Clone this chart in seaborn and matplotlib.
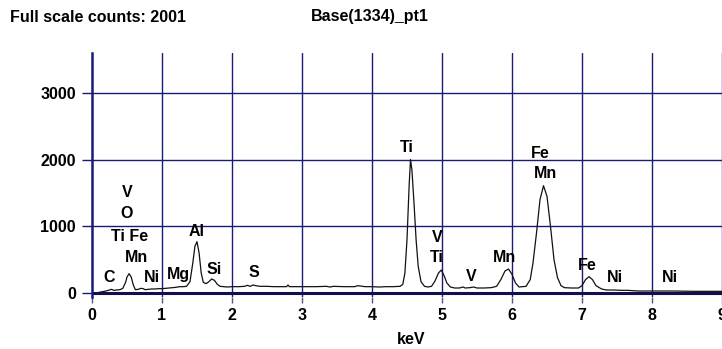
import matplotlib
matplotlib.use("Agg")
import matplotlib.pyplot as plt
import seaborn as sns
import pandas as pd

# ---- data ----
kev = [0.10, 0.15, 0.20, 0.25, 0.28, 0.31, 0.35, 0.40, 0.44, 0.48, 0.50, 0.53, 0.56, 0.59,
       0.62, 0.66, 0.70, 0.73, 0.76, 0.80, 0.85, 0.90, 0.95, 1.00, 1.05, 1.10, 1.15, 1.20,
       1.25, 1.30, 1.35, 1.40, 1.44, 1.47, 1.50, 1.53, 1.56, 1.59, 1.63, 1.67, 1.71, 1.75,
       1.79, 1.83, 1.88, 1.93, 2.00, 2.10, 2.18, 2.22, 2.26, 2.30, 2.34, 2.40, 2.50, 2.60,
       2.70, 2.78, 2.80, 2.82, 2.90, 3.00, 3.10, 3.20, 3.35, 3.40, 3.45, 3.60, 3.75, 3.80,
       3.90, 4.00, 4.10, 4.20, 4.30, 4.40, 4.44, 4.47, 4.50, 4.53, 4.55, 4.57, 4.60, 4.63,
       4.66, 4.70, 4.75, 4.80, 4.85, 4.90, 4.95, 4.99, 5.03, 5.07, 5.12, 5.18, 5.25, 5.30,
       5.33, 5.40, 5.45, 5.50, 5.60, 5.70, 5.78, 5.84, 5.90, 5.95, 6.00, 6.05, 6.10, 6.20,
       6.26, 6.30, 6.35, 6.40, 6.45, 6.50, 6.55, 6.60, 6.65, 6.70, 6.75, 6.85, 6.95, 7.00,
       7.05, 7.10, 7.15, 7.20, 7.28, 7.35, 7.45, 7.55, 7.65, 7.80, 8.00, 8.30, 8.60, 9.00]
counts = [10, 20, 30, 45, 55, 40, 45, 50, 70, 160, 240, 290, 240, 120,
          50, 55, 70, 65, 50, 55, 60, 60, 65, 65, 70, 75, 80, 85,
          95, 95, 100, 170, 450, 700, 770, 600, 300, 160, 140, 170, 210, 190,
          130, 100, 95, 90, 95, 95, 100, 115, 100, 120, 110, 100, 100, 95,
          95, 95, 120, 95, 95, 95, 95, 95, 100, 90, 100, 95, 95, 110,
          95, 95, 90, 95, 95, 100, 130, 300, 800, 1600, 2001, 1850, 1350, 800,
          400, 170, 100, 90, 100, 180, 300, 345, 260, 150, 90, 75, 75, 90,
          75, 80, 90, 75, 75, 80, 100, 200, 330, 360, 280, 150, 90, 100,
          200, 450, 900, 1400, 1610, 1450, 1000, 500, 230, 110, 80, 75, 75, 110,
          200, 245, 200, 110, 60, 45, 45, 40, 40, 30, 30, 30, 25, 25]

peak_labels = ["V", "O", "Ti Fe", "Mn", "C", "Ni", "Mg", "Al", "Si", "S",
               "Ti", "V", "Ti", "V", "Mn", "Fe", "Mn", "Fe", "Ni", "Ni"]
label_kev = [0.50, 0.50, 0.54, 0.63, 0.24, 0.85, 1.23, 1.49, 1.74, 2.31,
             4.50, 4.93, 4.93, 5.42, 5.89, 6.40, 6.48, 7.07, 7.47, 8.26]
label_counts = [1505, 1200, 845, 540, 240, 225, 270, 920, 360, 305,
                2190, 840, 530, 245, 525, 2100, 1785, 410, 225, 225]

x_ticks = [0, 1, 2, 3, 4, 5, 6, 7, 8, 9]
y_ticks = [0, 1000, 2000, 3000]

df = pd.DataFrame({"keV": kev, "counts": counts})

sns.set_style("white")
plt.rcParams["font.family"] = ["Liberation Sans", "DejaVu Sans"]
plt.rcParams["font.weight"] = "bold"
plt.rcParams["text.color"] = "black"
plt.rcParams["axes.labelcolor"] = "black"
plt.rcParams["xtick.labelcolor"] = "black"
plt.rcParams["ytick.labelcolor"] = "black"

NAVY = "#1a1a78"
FS = 11.5

fig = plt.figure(figsize=(7.22, 3.49), dpi=100)
ax = fig.add_axes([92 / 722, 52 / 349, 630 / 722, 244 / 349])

# grid
for xv in x_ticks[1:]:
    ax.axvline(xv, color=NAVY, lw=1.0, zorder=1)
for yv in y_ticks[1:]:
    ax.axhline(yv, color=NAVY, lw=1.0, zorder=1)
ax.axhline(0, color="#101050", lw=2.2, zorder=2)

sns.lineplot(data=df, x="keV", y="counts", ax=ax, color="#111111", lw=0.9, zorder=3)

for t, xv, yv in zip(peak_labels, label_kev, label_counts):
    ax.text(xv, yv, t, ha="center", va="center", fontsize=FS, fontweight="bold",
            color="black", zorder=4)

ax.set_xlim(0, 9)
ax.set_ylim(-60, 3600)
ax.set_xticks(x_ticks)
ax.set_yticks(y_ticks)
ax.set_xticklabels([str(v) for v in x_ticks], fontsize=FS, fontweight="bold", color="black")
ax.set_yticklabels([str(v) for v in y_ticks], fontsize=FS, fontweight="bold", color="black")
ax.tick_params(axis="x", length=4, width=1.0, color="#555577", pad=4, bottom=True)
ax.tick_params(axis="y", length=7, width=1.0, color=NAVY, pad=4.5, left=True)
ax.set_xlabel("keV", fontsize=FS, fontweight="bold", color="black")
ax.xaxis.label.set_va("center")
ax.xaxis.set_label_coords((411 - 92) / 630, -(339 - 296) / 244)
ax.set_ylabel("")

for s in ["top", "right", "bottom"]:
    ax.spines[s].set_visible(False)
ax.spines["left"].set_color(NAVY)
ax.spines["left"].set_linewidth(1.8)

fig.text(10 / 722, 1 - 17 / 349, "Full scale counts: 2001", ha="left", va="center",
         fontsize=FS, fontweight="bold", color="black")
fig.text(311 / 722, 1 - 17 / 349, "Base(1334)_pt1", ha="left", va="center",
         fontsize=FS, fontweight="bold", color="black")

fig.savefig("out.png", dpi=100)
